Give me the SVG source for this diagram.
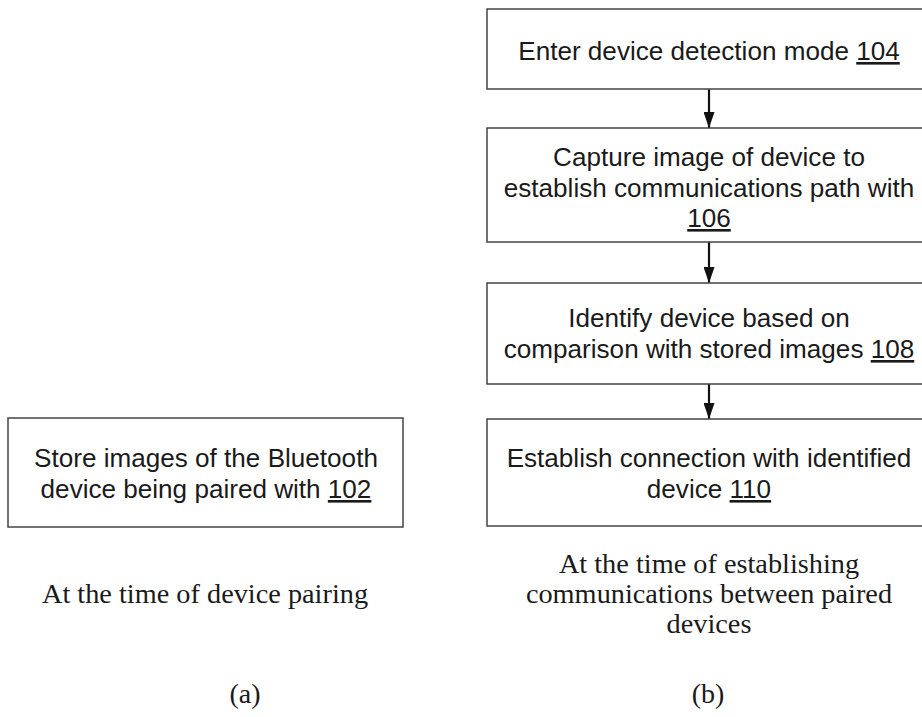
<svg xmlns="http://www.w3.org/2000/svg" width="922" height="717" viewBox="0 0 922 717">
<style>
.box{fill:#fff;stroke:#444;stroke-width:1.5}
.t{font-family:"Liberation Sans",Arial,sans-serif;font-size:26.1px;fill:#1a1a1a;text-anchor:middle}
.u{text-decoration:underline}
.cap{font-family:"Liberation Serif","Times New Roman",serif;font-size:28.3px;fill:#1a1a1a;text-anchor:middle}
.lbl{font-family:"Liberation Serif","Times New Roman",serif;font-size:28px;fill:#1a1a1a;text-anchor:middle}
.edge{stroke:#111;stroke-width:2.2;fill:none;marker-end:url(#arr)}
</style>
<defs>
<marker id="arr" markerWidth="16" markerHeight="11" refX="16" refY="5.5" orient="auto" markerUnits="userSpaceOnUse" viewBox="0 0 16 11">
<path d="M0,0 L16,5.5 L0,11 Z" fill="#111"/>
</marker>
</defs>
<rect width="922" height="717" fill="#fff"/>
<g id="connectors">
<line class="edge" x1="709" y1="89" x2="709" y2="128"/>
<line class="edge" x1="709" y1="242" x2="709" y2="283"/>
<line class="edge" x1="709" y1="384" x2="709" y2="419"/>
</g>
<g id="n102">
<rect class="box" x="8" y="418" width="395" height="109"/>
<text class="t" x="206" y="467">Store images of the Bluetooth</text>
<text class="t" x="206" y="498">device being paired with <tspan class="u">102</tspan></text>
</g>
<g id="n104">
<rect class="box" x="487" y="9" width="450" height="80"/>
<text class="t" x="709" y="60">Enter device detection mode <tspan class="u">104</tspan></text>
</g>
<g id="n106">
<rect class="box" x="487" y="128" width="450" height="114"/>
<text class="t" x="709" y="166">Capture image of device to</text>
<text class="t" x="709" y="197">establish communications path with</text>
<text class="t" x="709" y="227"><tspan class="u">106</tspan></text>
</g>
<g id="n108">
<rect class="box" x="487" y="283" width="450" height="101"/>
<text class="t" x="709" y="327">Identify device based on</text>
<text class="t" x="709" y="358">comparison with stored images <tspan class="u">108</tspan></text>
</g>
<g id="n110">
<rect class="box" x="487" y="419" width="450" height="107"/>
<text class="t" x="709" y="467">Establish connection with identified</text>
<text class="t" x="709" y="498">device <tspan class="u">110</tspan></text>
</g>
<g id="captions">
<text class="cap" x="205" y="603">At the time of device pairing</text>
<text class="cap" x="709" y="573">At the time of establishing</text>
<text class="cap" x="709" y="603">communications between paired</text>
<text class="cap" x="709" y="633">devices</text>
<text class="lbl" x="245" y="703">(a)</text>
<text class="lbl" x="708" y="703">(b)</text>
</g>
</svg>
